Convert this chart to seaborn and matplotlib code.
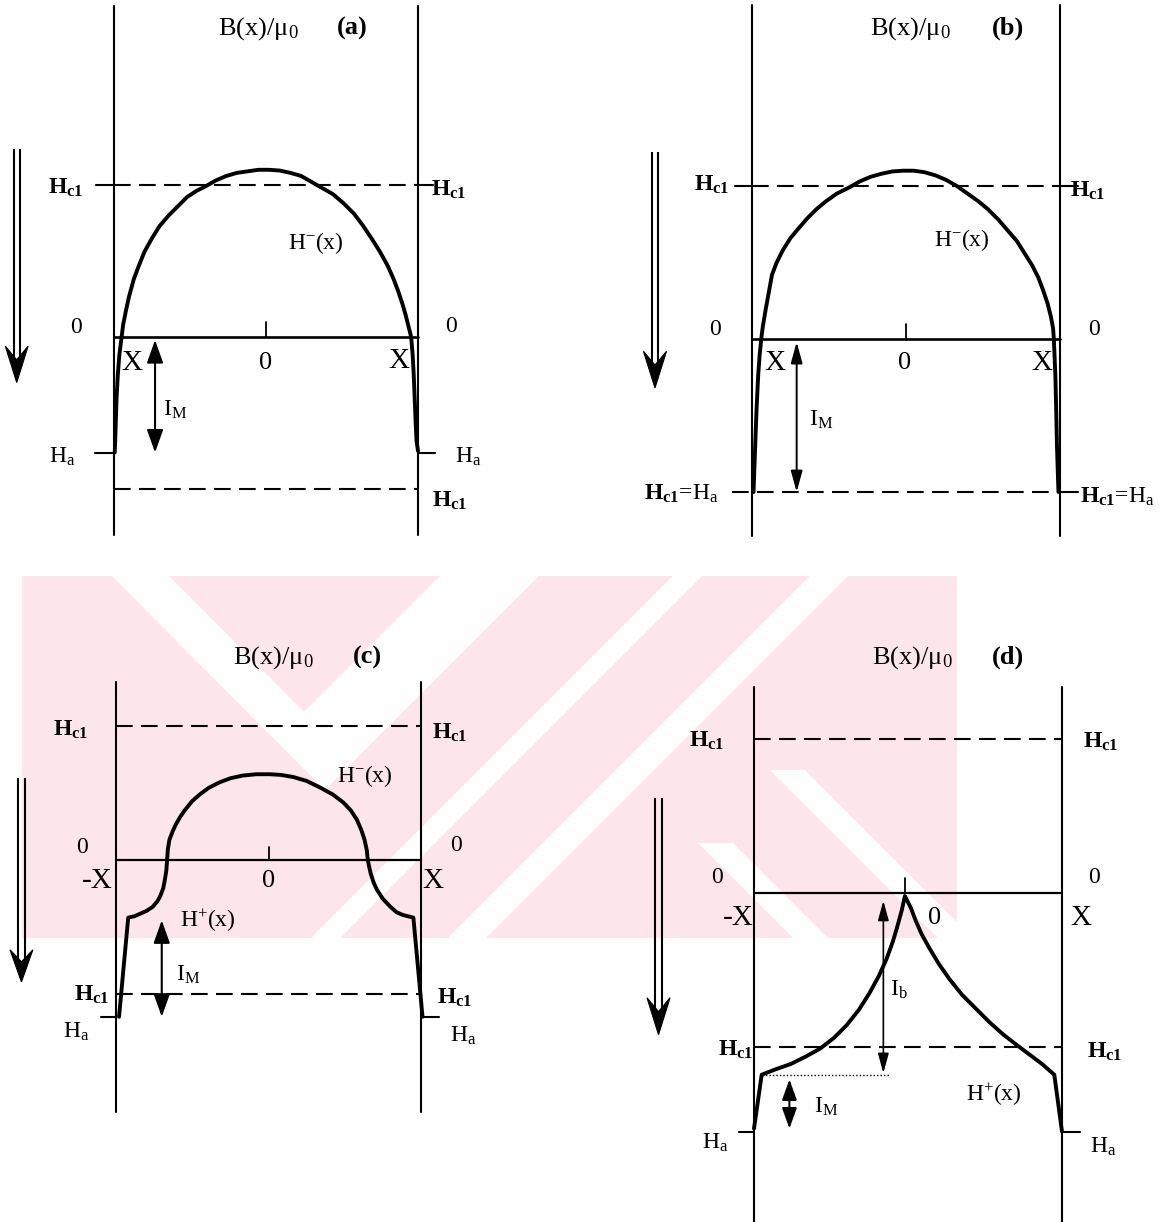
import matplotlib
matplotlib.use("Agg")
import matplotlib.pyplot as plt
import seaborn as sns
from matplotlib.patches import Polygon, Rectangle
from matplotlib.patches import ArrowStyle

sns.set_theme(style="white")
plt.rcParams['font.family'] = ['Liberation Serif', 'DejaVu Serif']
plt.rcParams['mathtext.fontset'] = 'custom'
plt.rcParams['mathtext.rm'] = 'Liberation Serif'
plt.rcParams['mathtext.it'] = 'Liberation Serif:italic'
plt.rcParams['mathtext.bf'] = 'Liberation Serif:bold'

# ---------------------------------------------------------------
# Field profiles B(x)/mu0 across the slab (x in units of X,
# field in units of Hc1)
# ---------------------------------------------------------------
a_x = [-0.995, -0.992, -0.988, -0.983, -0.975, -0.965, -0.95, -0.94, -0.92, -0.90,
       -0.87, -0.84, -0.80, -0.75, -0.70, -0.64, -0.58, -0.52, -0.46, -0.40,
       -0.33, -0.26, -0.19, -0.12, -0.05, 0.02, 0.09, 0.16, 0.23, 0.30, 0.37,
       0.44, 0.51, 0.58, 0.64, 0.70, 0.75, 0.80, 0.84, 0.87, 0.90, 0.92, 0.94,
       0.955, 0.965, 0.972, 0.978, 0.984, 0.99, 1.00]
a_y = [-0.76, -0.68, -0.55, -0.40, -0.25, -0.12, 0.00, 0.08, 0.18, 0.27,
       0.38, 0.46, 0.56, 0.65, 0.73, 0.80, 0.86, 0.92, 0.96, 0.99,
       1.03, 1.06, 1.08, 1.09, 1.10, 1.10, 1.095, 1.08, 1.06, 1.02, 0.98,
       0.94, 0.88, 0.81, 0.73, 0.64, 0.56, 0.47, 0.38, 0.30, 0.21, 0.14, 0.06,
       0.00, -0.12, -0.25, -0.40, -0.55, -0.68, -0.75]

b_x = [-0.99, -0.985, -0.98, -0.975, -0.97, -0.96, -0.95, -0.94, -0.93, -0.91,
       -0.89, -0.87, -0.84, -0.80, -0.75, -0.70, -0.64, -0.58, -0.52, -0.45,
       -0.37, -0.30, -0.23, -0.16, -0.09, -0.02, 0.05, 0.12, 0.19, 0.26, 0.33,
       0.40, 0.47, 0.53, 0.60, 0.66, 0.72, 0.77, 0.82, 0.86, 0.89, 0.92, 0.94,
       0.955, 0.96, 0.965, 0.97, 0.975, 0.98, 0.985, 0.99]
b_y = [-1.00, -0.86, -0.72, -0.58, -0.45, -0.24, -0.10, 0.00, 0.08, 0.20,
       0.31, 0.42, 0.50, 0.58, 0.66, 0.72, 0.79, 0.85, 0.90, 0.95,
       0.99, 1.03, 1.06, 1.08, 1.095, 1.10, 1.10, 1.09, 1.07, 1.04, 1.00,
       0.95, 0.90, 0.85, 0.78, 0.71, 0.64, 0.56, 0.48, 0.40, 0.32, 0.23, 0.15,
       0.07, 0.00, -0.12, -0.24, -0.45, -0.69, -0.85, -1.00]

c_x = [-0.98, -0.92, -0.88, -0.84, -0.80, -0.76, -0.73, -0.71, -0.69, -0.68,
       -0.67, -0.665, -0.66, -0.65, -0.63, -0.61, -0.58, -0.55, -0.50, -0.45,
       -0.39, -0.32, -0.25, -0.17, -0.08, 0.01, 0.08, 0.16, 0.25, 0.34, 0.42,
       0.49, 0.54, 0.58, 0.61, 0.63, 0.645, 0.65, 0.66, 0.67, 0.69, 0.71, 0.75,
       0.80, 0.84, 0.88, 0.95, 1.01]
c_y = [-1.17, -0.43, -0.42, -0.40, -0.38, -0.35, -0.31, -0.27, -0.21, -0.15,
       -0.08, 0.00, 0.08, 0.15, 0.21, 0.26, 0.32, 0.37, 0.44, 0.49,
       0.54, 0.58, 0.61, 0.63, 0.64, 0.64, 0.635, 0.62, 0.59, 0.54, 0.49,
       0.43, 0.37, 0.30, 0.22, 0.15, 0.07, 0.01, -0.05, -0.10, -0.17, -0.22, -0.29,
       -0.35, -0.39, -0.41, -0.43, -1.17]

d_x = [-1.00, -0.95, -0.86, -0.76, -0.66, -0.57, -0.48, -0.40, -0.32, -0.25,
       -0.19, -0.14, -0.10, -0.07, -0.04, -0.02, 0.02, 0.05, 0.09, 0.14, 0.20,
       0.27, 0.35, 0.44, 0.53, 0.62, 0.71, 0.79, 0.87, 0.95, 1.00]
d_y = [-1.53, -1.18, -1.145, -1.11, -1.06, -1.01, -0.94, -0.86, -0.76, -0.65,
       -0.54, -0.43, -0.32, -0.22, -0.11, -0.02, -0.10, -0.18, -0.27, -0.36, -0.46,
       -0.56, -0.66, -0.75, -0.84, -0.92, -0.99, -1.05, -1.11, -1.18, -1.55]

# Characteristic field levels per panel
hc1_level = [1.0, 1.0, 1.0, 1.0]
ha_level = [-0.76, -1.00, -1.17, -1.55]
hplus_edge = [None, None, -0.43, -1.18]
panel_tags = ["(a)", "(b)", "(c)", "(d)"]

W, H = 1170, 1222
fig = plt.figure(figsize=(W / 100, H / 100), dpi=100)
fig.patch.set_facecolor("white")

# ---------------------------------------------------------------
# background stamp (pale band with diagonal cut-outs)
# ---------------------------------------------------------------
bg = fig.add_axes([0, 0, 1, 1], zorder=0)
bg.set_xlim(0, W)
bg.set_ylim(H, 0)
bg.axis("off")
wm_color = "#fde6eb"
wm_top, wm_bot, wm_left, wm_right = 576, 938, 22, 957
hh = wm_bot - wm_top
clip = Rectangle((wm_left, wm_top), wm_right - wm_left, hh, transform=bg.transData)
bg.add_patch(Rectangle((wm_left, wm_top), wm_right - wm_left, hh,
                       facecolor=wm_color, edgecolor="none"))
cutouts = [
    # open V on the left
    [(112, 576), (169, 576), (304, 712), (440, 576), (539, 576), (325, 790)],
    # slanted gaps on the right
    [(673, 576), (702, 576), (702 - 362, 938), (673 - 362, 938)],
    [(810, 576), (848, 576), (848 - 362, 938), (810 - 362, 938)],
    [(770, 770), (805, 770), (973, 938), (938, 938)],
    [(698, 843), (733, 843), (828, 938), (793, 938)],
]
for poly in cutouts:
    p = Polygon(poly, closed=True, facecolor="white", edgecolor="none")
    bg.add_patch(p)
    p.set_clip_path(clip)

# ---------------------------------------------------------------
# panel geometry: pixel box, slab centre/half width, zero line, unit
# ---------------------------------------------------------------
geoms = [
    dict(box=(0, 585, 0, 560), cx=266, sx=152, zero=337, sy=152),
    dict(box=(585, 1170, 0, 560), cx=906, sx=154, zero=339, sy=153),
    dict(box=(0, 585, 600, 1222), cx=268.5, sx=152.5, zero=860, sy=134),
    dict(box=(585, 1170, 600, 1222), cx=908, sx=154, zero=893, sy=154),
]


def panel_axes(g):
    L, R, T, B = g["box"]
    ax = fig.add_axes([L / W, 1 - B / H, (R - L) / W, (B - T) / H], zorder=1)
    return ax


def set_frame(ax, g):
    L, R, T, B = g["box"]
    ax.set_xlim((L - g["cx"]) / g["sx"], (R - g["cx"]) / g["sx"])
    ax.set_ylim((g["zero"] - B) / g["sy"], (g["zero"] - T) / g["sy"])
    ax.axis("off")


HC1 = r"$\mathbf{H_{c1}}$"
HA = r"$\mathregular{H_a}$"
HM = r"$\mathregular{H^{-}(x)}$"
HP = r"$\mathregular{H^{+}(x)}$"
IM = r"$\mathregular{I_M}$"
IB = r"$\mathregular{I_b}$"
BMU = r"$\mathregular{B(x)/μ_0}$"
HC1_EQ_HA = HC1 + "=" + HA

dash = (0, (8, 4))
small_head = ArrowStyle("<|-|>", head_length=0.7, head_width=0.25)
thin_head = ArrowStyle("<|-|>", head_length=0.8, head_width=0.22)


def txt(ax, x, y, s, size=17, weight="normal"):
    ax.text(x, y, s, ha="center", va="center", fontsize=size, fontweight=weight,
            color="black", clip_on=False)


def sweep_arrow(ax, x, ytop, ybot):
    for off in (-0.021, 0.021):
        ax.plot([x + off, x + off], [ytop, ybot + 0.15], color="black", lw=1.5,
                solid_capstyle="butt", clip_on=False)
    head = Polygon([(x, ybot), (x - 0.075, ybot + 0.24), (x, ybot + 0.15),
                    (x + 0.075, ybot + 0.24)], closed=True, facecolor="black",
                   edgecolor="black", lw=0.8, clip_on=False)
    ax.add_patch(head)


def two_way(ax, x, y0, y1, style=small_head, lw=1.5, ms=20):
    ax.annotate("", xy=(x, y1), xytext=(x, y0),
                arrowprops=dict(arrowstyle=style, lw=lw, color="black",
                                mutation_scale=ms, shrinkA=0, shrinkB=0),
                annotation_clip=False)


curves = [(a_x, a_y), (b_x, b_y), (c_x, c_y), (d_x, d_y)]
wall_top = [2.18, 2.18, 1.33, 1.34]
wall_bot = [-1.30, -1.29, -1.88, -2.20]
sweep = [(-1.64, 1.24, -0.30), (-1.63, 1.22, -0.32), (-1.62, 0.61, -0.91), (-1.62, 0.62, -0.92)]
head_x = [-0.05, 0.03, 0.03, 0.03]
tag_x = [0.57, 0.66, 0.65, 0.65]
head_y = [2.03, 2.03, 1.51, 1.53]

for i, g in enumerate(geoms):
    ax = panel_axes(g)
    hc1 = hc1_level[i]
    ha = ha_level[i]

    # field profile
    xs, ys = curves[i]
    sns.lineplot(x=xs, y=ys, sort=False, estimator=None, ax=ax, color="black",
                 lw=2.8, legend=False)
    set_frame(ax, g)

    # slab surfaces
    for xw in (-1, 1):
        ax.plot([xw, xw], [wall_bot[i], wall_top[i]], color="black", lw=1.5, clip_on=False)
    # zero line and centre tick
    zlw = 1.9 if i < 2 else 1.6
    ax.plot([-1, 1], [0, 0], color="black", lw=zlw, clip_on=False)
    tick_x = 0.0 if i < 3 else -0.02
    ax.plot([tick_x, tick_x], [0, 0.10], color="black", lw=1.3, clip_on=False)

    # header
    txt(ax, head_x[i], head_y[i], BMU, 19)
    txt(ax, tag_x[i], head_y[i], panel_tags[i], 19, "bold")

    # sweep direction arrow
    sx_, st, sb = sweep[i]
    sweep_arrow(ax, sx_, st, sb)

    # upper Hc1
    ax.plot([-1, 1], [hc1, hc1], color="black", lw=1.5, linestyle=dash, clip_on=False)

    if i == 0:
        ax.plot([-1.12, -1], [hc1, hc1], color="black", lw=1.5)
        ax.plot([1, 1.10], [hc1, hc1], color="black", lw=1.5, clip_on=False)
        ax.plot([-1, 1], [-hc1, -hc1], color="black", lw=1.5, linestyle=dash)
        ax.plot([-1.125, -1], [ha, ha], color="black", lw=1.5)
        ax.plot([1, 1.11], [ha, ha], color="black", lw=1.5)
        txt(ax, -1.32, 0.98, HC1)
        txt(ax, 1.20, 0.97, HC1)
        txt(ax, 1.21, -1.08, HC1)
        txt(ax, 0.33, 0.62, HM)
        txt(ax, -1.25, 0.06, "0")
        txt(ax, 1.22, 0.07, "0")
        txt(ax, -0.88, -0.17, "X", 21)
        txt(ax, 0.0, -0.17, "0", 19)
        txt(ax, 0.875, -0.16, "X", 21)
        txt(ax, -0.60, -0.48, IM)
        txt(ax, -1.34, -0.79, HA)
        txt(ax, 1.33, -0.79, HA)
        two_way(ax, -0.73, -0.02, ha)
    elif i == 1:
        ax.plot([-1.11, -1], [hc1, hc1], color="black", lw=1.5)
        ax.plot([1, 1.12], [hc1, hc1], color="black", lw=1.5)
        ax.plot([-1.13, 1], [ha, ha], color="black", lw=1.5, linestyle=dash)
        ax.plot([1, 1.12], [ha, ha], color="black", lw=1.5)
        txt(ax, -1.26, 1.01, HC1)
        txt(ax, 1.18, 0.97, HC1)
        txt(ax, 0.36, 0.65, HM)
        txt(ax, -1.24, 0.06, "0")
        txt(ax, 1.22, 0.06, "0")
        txt(ax, -0.85, -0.16, "X", 21)
        txt(ax, -0.01, -0.16, "0", 19)
        txt(ax, 0.88, -0.16, "X", 21)
        txt(ax, -0.55, -0.53, IM)
        txt(ax, -1.46, -1.01, HC1_EQ_HA)
        txt(ax, 1.37, -1.03, HC1_EQ_HA)
        two_way(ax, -0.71, -0.02, ha, thin_head, 1.4, 16)
    elif i == 2:
        ax.plot([-1, 1], [-hc1, -hc1], color="black", lw=1.5, linestyle=dash)
        ax.plot([-1.10, -1], [ha, ha], color="black", lw=1.5)
        ax.plot([1, 1.12], [ha, ha], color="black", lw=1.5)
        txt(ax, -1.30, 0.97, HC1)
        txt(ax, 1.19, 0.95, HC1)
        txt(ax, 0.63, 0.63, HM)
        txt(ax, -1.22, 0.09, "0")
        txt(ax, 1.23, 0.11, "0")
        txt(ax, -1.12, -0.16, "-X", 21)
        txt(ax, 0.0, -0.16, "0", 19)
        txt(ax, 1.08, -0.16, "X", 21)
        txt(ax, -0.40, -0.45, HP)
        txt(ax, -0.53, -0.86, IM)
        txt(ax, -1.16, -1.01, HC1)
        txt(ax, 1.22, -1.03, HC1)
        txt(ax, -1.26, -1.28, HA)
        txt(ax, 1.28, -1.31, HA)
        two_way(ax, -0.70, hplus_edge[i] - 0.02, ha)
    else:
        ax.plot([-1, 1], [-hc1, -hc1], color="black", lw=1.5, linestyle=dash)
        ax.plot([-1.10, -1], [ha, ha], color="black", lw=1.5)
        ax.plot([1, 1.12], [ha, ha], color="black", lw=1.5)
        ax.plot([-0.95, -0.12], [hplus_edge[i], hplus_edge[i]], color="black",
                lw=1.0, linestyle=(0, (1, 1.5)))
        txt(ax, -1.31, 0.99, HC1)
        txt(ax, 1.25, 0.98, HC1)
        txt(ax, -1.24, 0.10, "0")
        txt(ax, 1.21, 0.10, "0")
        txt(ax, -1.10, -0.16, "-X", 21)
        txt(ax, 0.17, -0.16, "0", 19)
        txt(ax, 1.12, -0.16, "X", 21)
        txt(ax, -0.06, -0.63, IB)
        txt(ax, -1.12, -1.02, HC1)
        txt(ax, 1.28, -1.03, HC1)
        txt(ax, 0.56, -1.31, HP)
        txt(ax, -0.53, -1.39, IM)
        txt(ax, -1.25, -1.62, HA)
        txt(ax, 1.27, -1.65, HA)
        two_way(ax, -0.16, -0.05, hplus_edge[i] + 0.01, thin_head, 1.2, 15)
        two_way(ax, -0.77, hplus_edge[i] - 0.03, ha + 0.02, small_head, 1.5, 18)

fig.savefig("out.png", dpi=100, facecolor="white")
